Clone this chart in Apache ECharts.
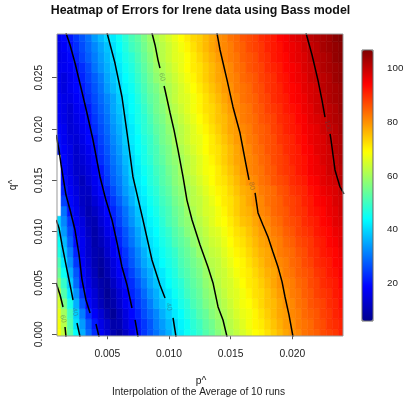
<!DOCTYPE html>
<html><head><meta charset="utf-8">
<script src="https://cdn.jsdelivr.net/npm/echarts@6/dist/echarts.min.js"></script>
<style>html,body{margin:0;padding:0;background:#fff}#c{width:404px;height:403px}</style>
</head><body><div id="c"></div>
<script>
// ---- data ----
const pValues = [0.0010,0.0015,0.0020,0.0025,0.0030,0.0035,0.0040,0.0045,0.0050,0.0055,0.0060,0.0065,0.0070,0.0075,0.0080,0.0085,0.0090,0.0095,0.0100,0.0105,0.0110,0.0115,0.0120,0.0125,0.0130,0.0135,0.0140,0.0145,0.0150,0.0155,0.0160,0.0165,0.0170,0.0175,0.0180,0.0185,0.0190,0.0195,0.0200,0.0205,0.0210,0.0215,0.0220,0.0225,0.0230,0.0235,0.0240];
const qValues = [0.000,0.001,0.002,0.003,0.004,0.005,0.006,0.007,0.008,0.009,0.010,0.011,0.012,0.013,0.014,0.015,0.016,0.017,0.018,0.019,0.020,0.021,0.022,0.023,0.024,0.025,0.026,0.027,0.028,0.029];
// errRows[i] = errors along p^ for q^ = qValues[i]; null = missing cell
const errRows = [
[69,63,53,44,36,29,23,18,14,10,8,12,16,20,24,27,30,33,36,40,42,45,47,49,52,54,57,59,61,63,65,67,69,70,72,74,76,78,80,81,83,84,85,87,88,89,91],
[68,62,52,41,34,27,21,16,13,9,10,14,18,21,24,27,31,34,37,40,43,45,48,50,53,55,58,60,62,64,66,68,70,71,73,75,77,79,80,82,83,84,86,87,89,90,91],
[67,60,50,39,31,23,18,14,10,7,11,15,19,22,26,29,32,36,39,42,44,47,49,52,54,57,59,61,63,65,67,68,70,72,74,76,78,79,81,82,84,85,86,88,89,91,92],
[65,56,46,36,27,19,15,11,8,9,13,17,20,24,27,31,35,38,41,43,46,48,51,53,56,58,60,62,64,66,68,69,71,73,75,76,78,80,81,83,84,86,87,88,90,91,93],
[63,52,42,33,24,18,14,10,7,10,14,18,22,25,29,33,36,40,42,45,47,50,52,54,57,59,61,63,65,66,68,70,72,73,75,77,79,80,82,83,85,86,88,89,90,92,93],
[58,49,39,29,20,16,12,9,8,12,16,20,23,27,31,35,38,41,44,46,48,51,53,55,58,60,62,64,65,67,69,71,72,74,76,78,80,81,82,84,85,87,88,90,91,92,94],
[54,45,36,27,19,15,11,7,10,14,18,21,25,29,33,36,40,42,45,47,50,52,54,56,59,61,63,64,66,68,70,71,73,75,77,78,80,82,83,85,86,87,89,90,92,93,95],
[51,42,33,24,18,14,10,8,11,15,19,23,27,31,35,38,41,44,46,48,51,53,55,57,60,62,63,65,67,69,70,72,74,76,78,79,81,82,84,85,87,88,90,91,92,94,95],
[47,39,31,22,17,13,10,9,13,17,20,24,28,32,36,40,42,45,47,49,52,54,56,59,61,63,64,66,68,70,71,73,75,77,78,80,82,83,84,86,87,89,90,92,93,94,96],
[45,37,28,20,17,13,9,11,14,18,22,26,30,34,38,41,43,46,48,51,53,55,58,60,62,64,65,67,69,71,72,74,76,78,79,81,82,84,85,87,88,89,91,92,94,95,97],
[42,34,26,19,16,12,9,12,16,19,23,27,31,35,39,42,44,47,49,52,54,57,59,61,63,65,66,68,70,72,73,75,77,79,80,82,83,85,86,88,89,90,92,93,94,96,97],
[40,32,24,18,15,11,10,14,17,21,25,29,33,37,40,43,45,48,51,53,56,58,60,62,64,66,68,69,71,73,75,76,78,80,81,83,84,86,87,88,90,91,92,94,95,97,98],
[null,30,20,17,13,10,12,15,19,22,26,30,34,38,41,44,46,49,51,54,56,59,61,63,65,66,68,70,72,74,76,77,79,81,82,84,85,86,88,89,90,92,93,94,96,97,99],
[null,25,19,16,12,11,14,17,20,24,28,32,36,40,42,45,47,50,52,55,57,60,62,63,65,67,69,71,72,74,76,78,80,81,83,84,85,87,88,89,91,92,94,95,96,98,99],
[null,22,18,15,12,12,16,19,22,26,30,34,37,41,43,46,48,51,53,56,58,60,62,64,66,68,70,71,73,75,77,78,80,82,83,84,86,87,89,90,91,93,94,96,97,98,100],
[null,20,17,14,11,14,17,20,24,28,31,35,39,42,44,47,49,52,54,57,59,61,63,65,67,69,71,72,74,76,78,80,81,83,84,86,87,88,90,91,92,94,95,97,98,99,101],
[null,19,16,13,13,15,18,21,25,29,32,36,40,42,45,47,50,52,55,57,60,62,64,66,68,69,71,73,75,77,79,81,82,83,85,86,88,89,90,92,93,95,96,97,99,100,101],
[null,19,16,13,14,16,19,23,26,30,33,37,40,43,46,48,51,53,56,58,60,62,64,66,68,70,72,74,76,78,79,81,82,84,85,87,88,89,91,92,93,95,96,98,99,100,102],
[21,18,16,13,15,17,20,24,27,31,34,38,41,44,46,49,51,54,56,59,61,63,65,67,69,71,72,74,76,78,80,81,83,84,86,87,88,90,91,92,94,95,97,98,99,101,102],
[20,17,15,14,16,19,21,25,28,32,35,39,42,44,47,49,52,55,57,60,62,64,66,67,69,71,73,75,77,79,80,82,83,85,86,87,89,90,91,93,94,96,97,98,100,101,102],
[19,17,14,15,17,19,23,26,29,33,36,39,42,45,48,50,53,55,58,60,62,64,66,68,70,72,74,76,78,79,81,82,84,85,86,88,89,91,92,93,95,96,97,99,100,101,103],
[18,16,14,16,18,20,24,27,30,34,37,40,43,46,48,51,54,56,59,61,63,65,67,69,71,73,75,76,78,80,82,83,84,86,87,88,90,91,92,94,95,97,98,99,101,102,103],
[18,16,14,17,19,21,25,28,31,35,38,41,44,46,49,52,55,57,60,62,64,66,68,70,72,73,75,77,79,81,82,83,85,86,88,89,90,92,93,94,96,97,99,100,101,102,104],
[18,16,16,18,20,23,26,29,32,35,39,42,44,47,50,53,55,58,61,63,65,66,68,70,72,74,76,78,80,81,83,84,85,87,88,90,91,92,94,95,96,98,99,100,102,103,104],
[17,15,17,19,21,24,27,30,34,37,40,43,45,48,51,54,56,59,61,63,65,67,69,71,73,75,77,79,80,82,83,84,86,87,89,90,91,93,94,95,97,98,99,101,102,103,104],
[17,15,17,19,22,25,28,31,35,38,41,44,46,49,52,55,58,60,62,64,66,68,70,72,74,76,78,79,81,82,84,85,86,88,89,90,92,93,95,96,97,99,100,101,102,104,105],
[17,17,18,20,23,26,30,33,36,39,42,45,47,50,53,56,59,61,63,65,67,69,71,72,74,76,78,80,81,83,84,86,87,88,90,91,92,94,95,96,98,99,100,102,103,104,105],
[16,17,19,22,25,28,31,34,37,40,43,46,48,51,54,57,60,62,64,66,67,69,71,73,75,77,79,81,82,83,85,86,87,89,90,92,93,94,96,97,98,100,101,102,103,105,106],
[16,18,20,23,26,29,32,35,38,41,44,47,50,52,55,58,60,62,64,66,68,70,72,74,76,78,80,81,82,84,85,87,88,89,91,92,93,95,96,97,99,100,101,103,104,105,106],
[17,19,21,24,27,30,34,37,40,42,45,48,51,53,56,59,61,63,65,67,69,71,73,74,76,78,80,81,83,84,86,87,88,90,91,92,94,95,97,98,99,101,102,103,104,106,107]
];
const errMin = 6, errMax = 107;
const xTickValues = [0.005,0.010,0.015,0.020];
const yTickValues = [0.000,0.005,0.010,0.015,0.020,0.025];
const colorTickValues = [20,40,60,80,100];

// contour lines [p^, q^]
const contour20Right = [[0.00165,0.02936],[0.00198,0.02819],[0.00238,0.02643],[0.00287,0.02400],[0.00335,0.02156],[0.00384,0.01893],[0.00441,0.01533],[0.00489,0.01305],[0.00538,0.01114],[0.00579,0.00890],[0.00619,0.00656],[0.00660,0.00480],[0.00700,0.00256]];
const contour20RightEnd = [[0.00725,0.00139],[0.00749,-0.00026]];
const contour20Left = [[0.00085,0.01942],[0.00108,0.01796],[0.00125,0.01650],[0.00141,0.01533],[0.00165,0.01357],[0.00198,0.01211],[0.00222,0.01094],[0.00238,0.01016],[0.00271,0.00773],[0.00295,0.00529],[0.00327,0.00334],[0.00360,0.00208]];
const contour20LeftEnd = [[0.00408,0.00100],[0.00433,-0.00026]];
const contour40Left = [[0.00085,0.01114],[0.00108,0.01036],[0.00133,0.00870],[0.00173,0.00627],[0.00206,0.00432],[0.00222,0.00334]];
const contour40LeftEnd = [[0.00254,0.00110],[0.00279,-0.00026]];
const contour60Left = [[0.00085,0.00500],[0.00117,0.00383],[0.00141,0.00266]];
const contour60LeftEnd = [[0.00157,0.00071],[0.00165,-0.00026]];
const contour40Right = [[0.00498,0.02936],[0.00562,0.02643],[0.00619,0.02312],[0.00668,0.01893],[0.00708,0.01533],[0.00789,0.01114],[0.00862,0.00724],[0.00927,0.00480],[0.00968,0.00354]];
const contour40RightEnd = [[0.01033,0.00159],[0.01057,-0.00026]];
const contour60Top = [[0.00862,0.02936],[0.00887,0.02819],[0.00911,0.02672],[0.00927,0.02594]];
const contour60 = [[0.00960,0.02419],[0.00968,0.02380],[0.01009,0.02156],[0.01041,0.01990],[0.01073,0.01796],[0.01114,0.01533],[0.01146,0.01305],[0.01187,0.01114],[0.01252,0.00870],[0.01316,0.00656],[0.01357,0.00500],[0.01398,0.00266],[0.01438,0.00139],[0.01471,-0.00026]];
const contour80Top = [[0.01389,0.02936],[0.01414,0.02770],[0.01471,0.02477],[0.01519,0.02215],[0.01576,0.01961],[0.01625,0.01650],[0.01649,0.01504]];
const contour80 = [[0.01698,0.01377],[0.01722,0.01182],[0.01762,0.01065],[0.01803,0.00948],[0.01843,0.00802],[0.01884,0.00656],[0.01917,0.00510],[0.01941,0.00363],[0.01973,0.00188],[0.02006,-0.00026]];
const contour100Top = [[0.02111,0.02936],[0.02160,0.02721],[0.02208,0.02477],[0.02241,0.02280],[0.02265,0.02117]];
const contour100 = [[0.02306,0.01952],[0.02314,0.01893],[0.02330,0.01747],[0.02346,0.01601],[0.02370,0.01504],[0.02387,0.01435],[0.02419,0.01367]];
const contourLabels = [[0.00944,0.02507,'60'],[0.01673,0.01445,'80'],[0.02289,0.02030,'100'],[0.01000,0.00266,'40'],[0.00238,0.00217,'40'],[0.00141,0.00149,'60']];

// ---- build ----
const dp = 0.0005, dq = 0.001;
const cells = [];
errRows.forEach((row, i) => row.forEach((v, j) => { if (v != null) cells.push([pValues[j], qValues[i], v]); }));

const contourSegments = [contour20Right, contour20RightEnd, contour20Left, contour20LeftEnd, contour40Left, contour40LeftEnd,
  contour60Left, contour60LeftEnd, contour40Right, contour40RightEnd, contour60Top, contour60, contour80Top, contour80, contour100Top, contour100];

const FONT = '"Liberation Sans", Arial, sans-serif';
const jet = ['#00008F','#0000FF','#0080FF','#00FFFF','#80FF80','#FFFF00','#FF8000','#FF0000','#800000'];

const series = [{
  type: 'custom', xAxisIndex: 0, yAxisIndex: 0, data: cells, clip: true, silent: true,
  encode: { x: 0, y: 1 },
  renderItem: function (params, api) {
    const p = api.value(0), q = api.value(1);
    const a = api.coord([p - dp / 2, q + dq / 2]);
    const b = api.coord([p + dp / 2, q - dq / 2]);
    const c = api.visual('color');
    return { type: 'rect', shape: { x: a[0], y: a[1], width: b[0] - a[0], height: b[1] - a[1] },
      style: { fill: c, stroke: c, lineWidth: 0.6 } };
  }
}];
contourSegments.forEach(seg => series.push({
  type: 'line', xAxisIndex: 0, yAxisIndex: 0, data: seg, symbol: 'none', clip: true, silent: true,
  lineStyle: { color: '#000', width: 1.5 }, z: 5
}));
series.push({
  type: 'scatter', xAxisIndex: 0, yAxisIndex: 0, data: contourLabels, symbolSize: 0, silent: true, z: 6,
  label: { show: true, position: 'inside', rotate: -78, formatter: p => p.data[2], fontSize: 7, fontFamily: FONT, color: 'rgba(70,70,70,0.55)' }
});

const chart = echarts.init(document.getElementById('c'), null, { renderer: 'canvas' });
chart.setOption({
  animation: false,
  backgroundColor: '#fff',
  grid: [
    { left: 57, top: 34, width: 286, height: 302, show: true, borderColor: '#999', borderWidth: 1, backgroundColor: 'transparent', z: 10, outerBoundsMode: 'none', containLabel: false },
    { left: 362, top: 50, width: 11, height: 271, show: true, borderColor: '#666', borderWidth: 1, backgroundColor: 'transparent', z: 10, outerBoundsMode: 'none', containLabel: false }
  ],
  xAxis: [
    { type: 'value', gridIndex: 0, min: 0.00092, max: 0.02411, splitLine: { show: false },
      axisLine: { show: false },
      axisTick: { show: true, customValues: xTickValues, length: 5, lineStyle: { color: '#555' } },
      axisLabel: { customValues: xTickValues, formatter: v => v.toFixed(3), fontSize: 10.3, fontFamily: FONT, color: '#222', margin: 13 } },
    { type: 'value', gridIndex: 1, min: 0, max: 1, show: false }
  ],
  yAxis: [
    { type: 'value', gridIndex: 0, min: -0.00017, max: 0.02926, splitLine: { show: false },
      axisLine: { show: false },
      axisTick: { show: true, customValues: yTickValues, length: 5, lineStyle: { color: '#555' } },
      axisLabel: { customValues: yTickValues, formatter: v => v.toFixed(3), rotate: 90, fontSize: 10.3, fontFamily: FONT, color: '#222', margin: 13 } },
    { type: 'value', gridIndex: 1, min: errMin, max: errMax, position: 'right', offset: 6, splitLine: { show: false },
      axisLine: { show: false },
      axisTick: { show: true, customValues: colorTickValues, length: 4, lineStyle: { color: '#555' } },
      axisLabel: { customValues: colorTickValues, fontSize: 9.8, fontFamily: FONT, color: '#222', margin: 8 } }
  ],
  visualMap: {
    type: 'continuous', seriesIndex: 0, dimension: 2, min: errMin, max: errMax,
    show: true, orient: 'vertical', left: 362, top: 50, itemWidth: 11, itemHeight: 271, padding: 0,
    calculable: false, hoverLink: false, text: null, showLabel: false,
    inRange: { color: jet }, textStyle: { fontSize: 0 }
  },
  graphic: [
    { type: 'text', x: 200.5, y: 11, style: { text: 'Heatmap of Errors for Irene data using Bass model', textAlign: 'center', textVerticalAlign: 'middle', verticalAlign: 'middle', font: 'bold 12.4px ' + FONT, fill: '#111' } },
    { type: 'text', x: 201, y: 381, style: { text: 'p^', textAlign: 'center', textVerticalAlign: 'middle', verticalAlign: 'middle', font: '10.3px ' + FONT, fill: '#222' } },
    { type: 'text', x: 198.5, y: 392, style: { text: 'Interpolation of the Average of 10 runs', textAlign: 'center', textVerticalAlign: 'middle', verticalAlign: 'middle', font: '10.2px ' + FONT, fill: '#222' } },
    { type: 'text', x: 13, y: 185, rotation: Math.PI / 2, style: { text: 'q^', textAlign: 'center', textVerticalAlign: 'middle', verticalAlign: 'middle', font: '10.3px ' + FONT, fill: '#222' } }
  ],
  series: series
});
</script>
</body></html>
